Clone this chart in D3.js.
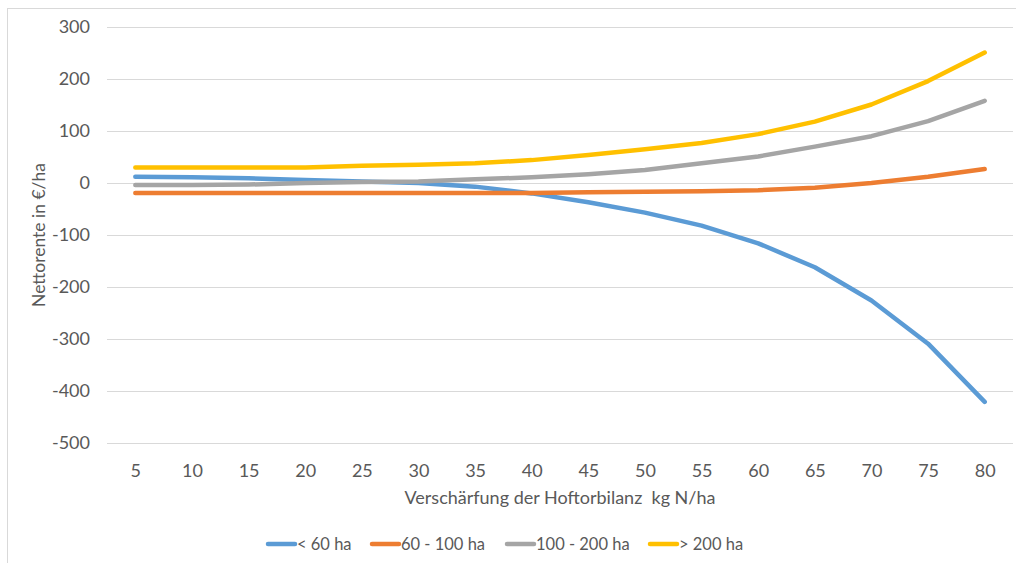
<!DOCTYPE html>
<html>
<head>
<meta charset="utf-8">
<script src="https://cdn.jsdelivr.net/npm/d3@7"></script>
<style>
  html, body { margin: 0; padding: 0; background: #fff; }
  svg { display: block; font-family: Lato, "Open Sans", sans-serif; }
</style>
</head>
<body>
<svg id="chart" width="1016" height="563"></svg>
<script>
// Verschärfung der Hoftorbilanz (kg N/ha)
const categories = [5, 10, 15, 20, 25, 30, 35, 40, 45, 50, 55, 60, 65, 70, 75, 80];

// Nettorente in €/ha per farm size class
const seriesNames = ["< 60 ha", "60 - 100 ha", "100 - 200 ha", "> 200 ha"];
const under60   = [12, 11, 9, 6, 3, 0, -7, -20, -37, -57, -82, -116, -162, -226, -309, -421];
const from60    = [-19, -19, -19, -19, -19, -19, -19, -19, -18, -17, -16, -14, -9, 0, 12, 27];
const from100   = [-4, -4, -3, 0, 2, 3, 7, 11, 17, 25, 38, 51, 70, 90, 119, 158];
const over200   = [30, 30, 30, 30, 33, 35, 38, 44, 54, 65, 77, 94, 118, 151, 196, 251];
const yTicks    = [300, 200, 100, 0, -100, -200, -300, -400, -500];

const colors = ["#5B9BD5", "#ED7D31", "#A5A5A5", "#FFC000"];
const seriesValues = [under60, from60, from100, over200];

const svg = d3.select("#chart");
const textColor = "#595959";
const fontFamily = "Lato, 'Open Sans', sans-serif";

// chart frame
svg.append("rect")
  .attr("x", 7.5).attr("y", 8.5)
  .attr("width", 1030).attr("height", 600)
  .attr("fill", "none").attr("stroke", "#d9d9d9").attr("stroke-width", 1);

const plot = { left: 107, right: 1013, top: 27, bottom: 443 };

const x = d3.scalePoint()
  .domain(categories)
  .range([plot.left, plot.right])
  .padding(0.5);

const y = d3.scaleLinear()
  .domain([-500, 300])
  .range([plot.bottom, plot.top]);

// horizontal gridlines
svg.append("g")
  .selectAll("line")
  .data(yTicks)
  .join("line")
  .attr("x1", plot.left).attr("x2", plot.right)
  .attr("y1", d => Math.round(y(d)) + 0.5)
  .attr("y2", d => Math.round(y(d)) + 0.5)
  .attr("stroke", "#d9d9d9").attr("stroke-width", 1);

// y axis labels (plain hyphen for negatives)
const yAxis = svg.append("g")
  .attr("transform", `translate(${plot.left},0)`)
  .call(d3.axisLeft(y).tickValues(yTicks).tickFormat(d => String(d)).tickSize(0).tickPadding(17));
yAxis.select(".domain").remove();
yAxis.selectAll("text")
  .attr("fill", textColor)
  .style("font-size", "18px")
  .style("font-family", fontFamily);

// x axis labels
const xAxis = svg.append("g")
  .attr("transform", `translate(0,${plot.bottom})`)
  .call(d3.axisBottom(x).tickSize(0).tickPadding(21));
xAxis.select(".domain").remove();
xAxis.selectAll("text")
  .attr("fill", textColor)
  .style("font-size", "18px")
  .style("font-family", fontFamily);

// axis titles
svg.append("text")
  .attr("x", 560).attr("y", 504)
  .attr("text-anchor", "middle")
  .attr("fill", textColor)
  .style("font-size", "18px")
  .style("white-space", "pre")
  .text("Verschärfung der Hoftorbilanz  kg N/ha");

svg.append("text")
  .attr("transform", "translate(45,235) rotate(-90)")
  .attr("text-anchor", "middle")
  .attr("fill", textColor)
  .style("font-size", "17.5px")
  .text("Nettorente in €/ha");

// series lines
const line = d3.line()
  .x((d, i) => x(categories[i]))
  .y(d => y(d));

svg.append("g")
  .selectAll("path")
  .data(seriesValues)
  .join("path")
  .attr("d", d => line(d))
  .attr("fill", "none")
  .attr("stroke", (d, i) => colors[i])
  .attr("stroke-width", 4.5)
  .attr("stroke-linecap", "round")
  .attr("stroke-linejoin", "round");

// legend
const legendX = [266, 370, 505, 648];
const legend = svg.append("g")
  .selectAll("g")
  .data(seriesNames)
  .join("g")
  .attr("transform", (d, i) => `translate(${legendX[i]},544)`);
legend.append("line")
  .attr("x1", 2).attr("x2", 29)
  .attr("y1", 0).attr("y2", 0)
  .attr("stroke", (d, i) => colors[i])
  .attr("stroke-width", 4.5)
  .attr("stroke-linecap", "round");
legend.append("text")
  .attr("x", 31).attr("y", 6)
  .attr("fill", textColor)
  .style("font-size", "16.5px")
  .text(d => d);
</script>
</body>
</html>
